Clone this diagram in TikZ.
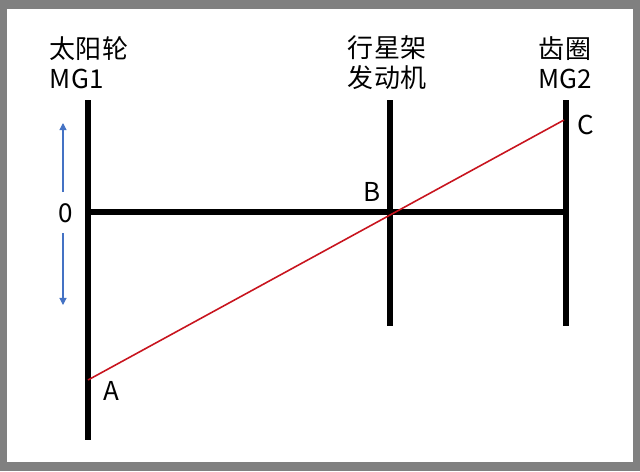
\documentclass[tikz,border=0pt]{standalone}
\usepackage{fontspec}
\setmainfont{Noto Sans CJK SC}
\usetikzlibrary{positioning,arrows.meta}
\definecolor{axisred}{RGB}{200,20,30}
\definecolor{hintblue}{RGB}{68,114,196}
\definecolor{frame}{RGB}{128,128,128}

\begin{document}
\begin{tikzpicture}[x=0.02cm,y=-0.02cm,
    bar/.style={line width=2.9pt},
    lbl/.style={font=\fontsize{14.8}{17}\selectfont,align=center,inner sep=0pt},
    pt/.style={font=\fontsize{14.8}{17}\selectfont,inner sep=0pt}]
    \fill[frame] (0,0) rectangle (640,471);
    \fill[white] (7,9) rectangle (633,462);
    \useasboundingbox (0,0) rectangle (640,471);

    % the three axes
    \coordinate (s1) at (88,100);
    \coordinate (s2) at (88,440);
    \coordinate (c1) at (390,100);
    \coordinate (c2) at (390,326);
    \coordinate (r1) at (566,100);
    \coordinate (r2) at (566,326);
    \coordinate (z) at (88,212);
    \coordinate (zr) at (566,212);

    \draw[bar] (s1) -- (s2);
    \draw[bar] (c1) -- (c2);
    \draw[bar] (r1) -- (r2);
    \draw[bar] (z) -- (zr);

    \node[lbl,align=left] (sun) at (89,63) {太阳轮\\MG1};
    \node[lbl] (carrier) at (387,63) {行星架\\发动机};
    \node[lbl] (ring) at (565,63) {齿圈\\MG2};

    % speed line
    \coordinate (a) at (88,380);
    \coordinate (c) at (564,120);
    \draw[axisred,line width=0.9pt] (a) -- (c);

    \node[pt] (A) at (111,391) {A};
    \node[pt] (B) at (372,192) {B};
    \node[pt] (C) at (586,125) {C};

    \node[pt] (zero) at (66,213) {0};
    \coordinate (up) at (63,123);
    \coordinate (down) at (63,305);
    \draw[hintblue,line width=0.6pt,-{Triangle[length=4pt,width=4pt]}] (63,192) -- (up);
    \draw[hintblue,line width=0.6pt,-{Triangle[length=4pt,width=4pt]}] (63,233) -- (down);
\end{tikzpicture}
\end{document}
